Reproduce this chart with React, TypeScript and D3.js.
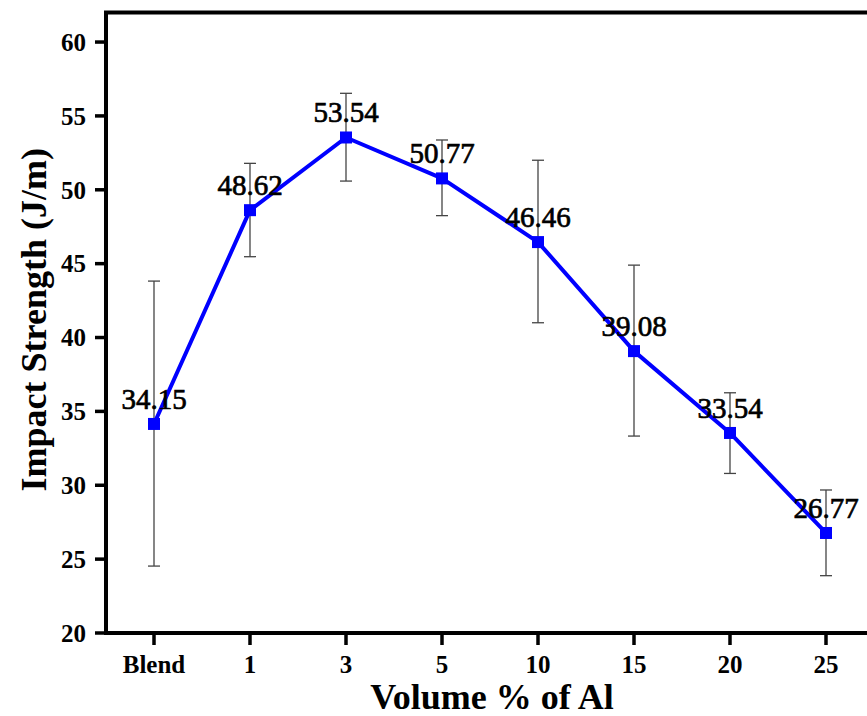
import React from "react";
import * as d3 from "d3";

const categories = ["Blend", "1", "3", "5", "10", "15", "20", "25"];
const values = [34.15, 48.62, 53.54, 50.77, 46.46, 39.08, 33.54, 26.77];
const errUp = [9.67, 3.17, 2.99, 2.6, 5.54, 5.82, 2.72, 2.91];
const errDown = [9.62, 3.15, 2.95, 2.52, 5.46, 5.75, 2.74, 2.89];
const yTicks = [20, 25, 30, 35, 40, 45, 50, 55, 60];

const W = 867;
const H = 716;
const left = 106;
const right = 874;
const top = 12.5;
const bottom = 633;
const serif = "'Liberation Serif', 'Times New Roman', serif";

export default function App() {
  const x = d3.scaleBand<string>().domain(categories).range([left, right]).padding(0);
  const y = d3.scaleLinear().domain([20, 62]).range([bottom, top]);
  const cx = (c: string) => (x(c) as number) + x.bandwidth() / 2;

  const pts = categories.map((c, i) => ({ c, v: values[i], up: errUp[i], dn: errDown[i] }));
  const line = d3
    .line<{ c: string; v: number }>()
    .x((d) => cx(d.c))
    .y((d) => y(d.v));

  return (
    <svg
      width={W}
      height={H}
      style={{ position: "absolute", left: 0, top: 0, background: "#fff" }}
    >
      <rect x={0} y={0} width={W} height={H} fill="#fff" />
      {pts.map((d) => {
        const px = cx(d.c);
        const y1 = y(d.v + d.up);
        const y2 = y(d.v - d.dn);
        return (
          <g key={"e" + d.c} stroke="#444" strokeWidth={1.3}>
            <line x1={px} x2={px} y1={y1} y2={y2} />
            <line x1={px - 6} x2={px + 6} y1={y1} y2={y1} />
            <line x1={px - 6} x2={px + 6} y1={y2} y2={y2} />
          </g>
        );
      })}
      <path d={line(pts) || ""} fill="none" stroke="#0000ff" strokeWidth={4} strokeLinejoin="round" />
      {pts.map((d) => (
        <rect
          key={"m" + d.c}
          x={cx(d.c) - 6}
          y={y(d.v) - 6}
          width={12}
          height={12}
          fill="#0000ff"
        />
      ))}
      {pts.map((d) => (
        <text
          key={"l" + d.c}
          x={cx(d.c)}
          y={y(d.v) - 15}
          textAnchor="middle"
          fontFamily={serif}
          fontSize={29}
          fill="#000"
          stroke="#000"
          strokeWidth={0.7}
        >
          {d.v.toFixed(2)}
        </text>
      ))}
      <rect x={left} y={top} width={right - left} height={bottom - top} fill="none" stroke="#000" strokeWidth={4} />
      {yTicks.map((t) => (
        <g key={"yt" + t}>
          <line x1={left - 11} x2={left} y1={y(t)} y2={y(t)} stroke="#000" strokeWidth={3.5} />
          <text
            x={left - 20}
            y={y(t)}
            dy="0.35em"
            textAnchor="end"
            fontFamily={serif}
            fontWeight="bold"
            fontSize={25}
          >
            {t}
          </text>
        </g>
      ))}
      {categories.map((c) => (
        <g key={"xt" + c}>
          <line x1={cx(c)} x2={cx(c)} y1={bottom} y2={bottom + 12} stroke="#000" strokeWidth={3.5} />
          <text
            x={cx(c)}
            y={bottom + 40}
            textAnchor="middle"
            fontFamily={serif}
            fontWeight="bold"
            fontSize={25}
          >
            {c}
          </text>
        </g>
      ))}
      <text
        x={492}
        y={709}
        textAnchor="middle"
        fontFamily={serif}
        fontWeight="bold"
        fontSize={36}
      >
        Volume % of Al
      </text>
      <text
        transform={`translate(46, ${(top + bottom) / 2 - 3}) rotate(-90)`}
        textAnchor="middle"
        fontFamily={serif}
        fontWeight="bold"
        fontSize={36}
      >
        Impact Strength (J/m)
      </text>
    </svg>
  );
}
